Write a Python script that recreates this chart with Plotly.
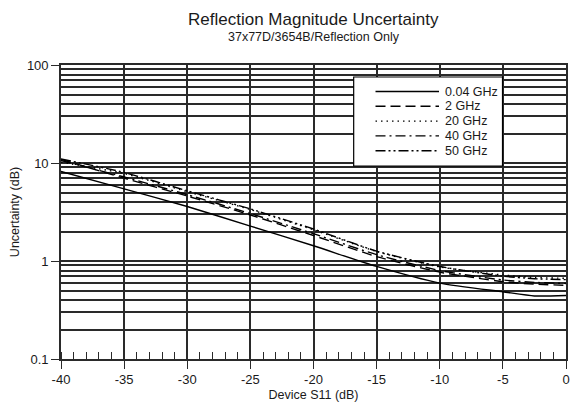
import plotly.graph_objects as go

# ---- data ----
s11_db = [-40, -35, -30, -25, -20, -15, -10, -5, -2.5, 0]
series_names = ["0.04 GHz", "2 GHz", "20 GHz", "40 GHz", "50 GHz"]
u_004 = [8.2, 5.45, 3.6, 2.27, 1.43, 0.88, 0.595, 0.485, 0.44, 0.445]
u_2 = [10.9, 7.0, 4.6, 2.95, 1.82, 1.11, 0.77, 0.615, 0.58, 0.565]
u_20 = [10.2, 7.8, 5.1, 3.35, 2.08, 1.25, 0.87, 0.72, 0.68, 0.665]
u_40 = [10.6, 7.2, 4.75, 3.05, 1.9, 1.16, 0.80, 0.64, 0.605, 0.59]
u_50 = [11.0, 8.0, 5.2, 3.4, 2.12, 1.26, 0.88, 0.70, 0.66, 0.645]
series_vals = [u_004, u_2, u_20, u_40, u_50]

x_tickvals = [-40, -35, -30, -25, -20, -15, -10, -5, 0]
x_ticktext = ["-40", "-35", "-30", "-25", "-20", "-15", "-10", "-5", "0"]
y_tickvals = [0.1, 1, 10, 100]
y_ticktext = ["0.1", "1", "10", "100"]
y_minor = [m * d for d in (0.1, 1, 10) for m in range(2, 10)]

dashes = ["solid", "10px,5px", "1.5px,4px", "10px,4px,2px,4px", "10px,3px,2px,3px,2px,3px"]

FONT = "Liberation Sans, Arial, Helvetica, sans-serif"
TXT = "#1a1a1a"
GRID = "#2a2a2a"

fig = go.Figure()
for name, vals, dash in zip(series_names, series_vals, dashes):
    fig.add_trace(go.Scatter(
        x=s11_db, y=vals, mode="lines", name=name,
        line=dict(color="black", width=1.4, dash=dash, shape="spline", smoothing=0.6),
        showlegend=False,
    ))

# plot area in pixels: x 61..570, y 65..359
L, R, T, B = 61, 570, 65, 359
def px(X):
    return (X - L) / (R - L)
def py(Y):
    return (B - Y) / (B - T)

shapes = []
annotations = []
# legend box
shapes.append(dict(type="rect", xref="paper", yref="paper",
                   x0=px(356), x1=px(506), y0=py(166), y1=py(77),
                   fillcolor="white", line=dict(color="black", width=1.2), layer="above"))
row_y = [91.5, 106.3, 121.1, 135.9, 150.7]
for name, dash, ry in zip(series_names, dashes, row_y):
    shapes.append(dict(type="line", xref="paper", yref="paper",
                       x0=px(378), x1=px(442), y0=py(ry), y1=py(ry),
                       line=dict(color="black", width=1.4, dash=dash), layer="above"))
    annotations.append(dict(text=name, xref="paper", yref="paper", x=px(446), y=py(ry),
                            xanchor="left", yanchor="middle", showarrow=False,
                            font=dict(family=FONT, size=12.5, color=TXT)))

# title & subtitle
annotations.append(dict(text="Reflection Magnitude Uncertainty", xref="paper", yref="paper",
                        x=0.5, y=py(19), xanchor="center", yanchor="middle", showarrow=False,
                        font=dict(family=FONT, size=17, color=TXT)))
annotations.append(dict(text="37x77D/3654B/Reflection Only", xref="paper", yref="paper",
                        x=0.5, y=py(37.5), xanchor="center", yanchor="middle", showarrow=False,
                        font=dict(family=FONT, size=12.5, color=TXT)))

fig.update_layout(
    width=574, height=404,
    margin=dict(l=L, r=574 - R, t=T, b=404 - B),
    paper_bgcolor="white", plot_bgcolor="white",
    font=dict(family=FONT, size=13, color=TXT),
    shapes=shapes, annotations=annotations,
    showlegend=False,
)
fig.update_xaxes(
    range=[-40, 0], tickmode="array", tickvals=x_tickvals, ticktext=x_ticktext,
    ticks="outside", ticklen=8, tickwidth=1.4, tickcolor=GRID,
    showgrid=True, gridcolor=GRID, gridwidth=1.5,
    showline=True, linecolor=GRID, linewidth=1.6, mirror=True,
    zeroline=False,
    tickfont=dict(family=FONT, size=13, color=TXT),
    title=dict(text="Device S11 (dB)", font=dict(family=FONT, size=12.5, color=TXT), standoff=4),
    minor=dict(dtick=1, ticks="inside", ticklen=7, tickwidth=1.2, tickcolor=GRID, showgrid=False),
)
fig.update_yaxes(
    type="log", range=[-1, 2], tickmode="array", tickvals=y_tickvals, ticktext=y_ticktext,
    ticks="outside", ticklen=8, tickwidth=1.4, tickcolor=GRID,
    showgrid=True, gridcolor=GRID, gridwidth=1.5,
    showline=True, linecolor=GRID, linewidth=1.6, mirror=True,
    zeroline=False,
    tickfont=dict(family=FONT, size=13, color=TXT),
    title=dict(text="Uncertainty (dB)", font=dict(family=FONT, size=12.5, color=TXT), standoff=5),
    minor=dict(tickmode="array", tickvals=y_minor, ticks="", showgrid=True,
               gridcolor=GRID, gridwidth=1.5),
)

fig.write_html("out.html", config={"displayModeBar": False},
               post_script="document.body.style.margin='0';")
